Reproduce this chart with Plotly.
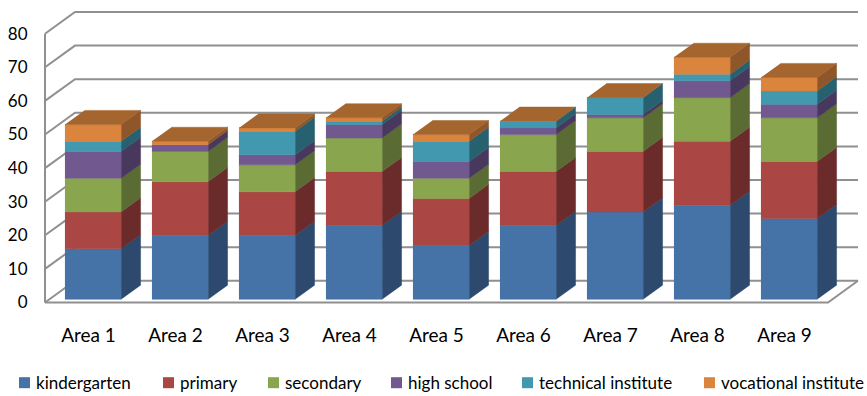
import plotly.graph_objects as go

# ---- data -------------------------------------------------------------
areas = ["Area 1", "Area 2", "Area 3", "Area 4", "Area 5",
         "Area 6", "Area 7", "Area 8", "Area 9"]

kindergarten = [15, 19, 19, 22, 16, 22, 26, 28, 24]
primary = [11, 16, 13, 16, 14, 16, 18, 19, 17]
secondary = [10, 9, 8, 10, 6, 11, 10, 13, 13]
high_school = [8, 2, 3, 4, 5, 2, 1, 5, 4]
technical_institute = [3, 0, 7, 1, 6, 2, 5, 2, 4]
vocational_institute = [5, 1, 1, 1, 2, 0, 0, 5, 4]

series_names = ["kindergarten", "primary", "secondary", "high school",
                "technical institute", "vocational institute"]
series_values = [kindergarten, primary, secondary, high_school,
                 technical_institute, vocational_institute]

y_ticks = [0, 10, 20, 30, 40, 50, 60, 70, 80]

# ---- styling ----------------------------------------------------------
front_colors = ["#4572A7", "#AA4643", "#89A54E", "#71588F", "#4198AF", "#DB843D"]
side_colors = ["#2D4A6E", "#6B2B2A", "#5A6B33", "#48385D", "#27606F", "#8E5629"]
top_color = "#A5652F"
grid_color = "#909090"
FONT = "Lato"

W, H = 867, 396
M_L, M_R, M_T, M_B = 40, 0, 0, 90

# pixel scale of one category step and one value unit
PX_X = 87.0
PX_Y = 3.36
X0_PX = 88.5      # pixel x of first category at the front plane
V0_PX = 302.5     # pixel y of value 0 at the front plane

# oblique depth offset (full depth of the floor), in data units
DX = 30.0 / PX_X
DY = 21.7 / PX_Y

# bar geometry
HALF_W = 0.3225   # half of the bar front width (category units)
D_FRONT = 0.15    # depth of the bar front face
D_BACK = 0.80     # depth of the bar back face

x_range = [(M_L - X0_PX) / PX_X, (W - M_R - X0_PX) / PX_X]
plot_h = H - M_T - M_B
y_range = [(V0_PX - (M_T + plot_h)) / PX_Y, (V0_PX - M_T) / PX_Y]

x_lo, x_hi = -0.5, len(areas) - 0.5
v_top = y_ticks[-1]

fig = go.Figure()

# ---- walls, floor and gridlines ---------------------------------------
gx, gy = [], []
for v in y_ticks:
    gx += [x_lo, x_lo + DX, x_hi + DX, None]
    gy += [v, v + DY, v + DY, None]
# left wall front edge
gx += [x_lo, x_lo, None]
gy += [0, v_top, None]
# floor outline
gx += [x_lo, x_hi, x_hi + DX, None]
gy += [0, 0, DY, None]
fig.add_trace(go.Scatter(x=gx, y=gy, mode="lines",
                         line=dict(color=grid_color, width=2),
                         hoverinfo="skip", showlegend=False))


def proj(x, v, d):
    """Oblique projection of (category x, value v, depth d)."""
    return x + d * DX, v + d * DY


# ---- stacked bars -----------------------------------------------------
n = len(areas)
bottoms = [0.0] * n
faces_front, faces_side = [], []
for s, vals in enumerate(series_values):
    fx, fy, sx, sy = [], [], [], []
    for i in range(n):
        b = bottoms[i]
        t = b + vals[i]
        if vals[i] > 0:
            pts = [proj(i - HALF_W, b, D_FRONT), proj(i + HALF_W, b, D_FRONT),
                   proj(i + HALF_W, t, D_FRONT), proj(i - HALF_W, t, D_FRONT)]
            fx += [p[0] for p in pts] + [None]
            fy += [p[1] for p in pts] + [None]
            pts = [proj(i + HALF_W, b, D_FRONT), proj(i + HALF_W, b, D_BACK),
                   proj(i + HALF_W, t, D_BACK), proj(i + HALF_W, t, D_FRONT)]
            sx += [p[0] for p in pts] + [None]
            sy += [p[1] for p in pts] + [None]
        bottoms[i] = t
    faces_side.append((sx, sy))
    faces_front.append((fx, fy))

for s in range(len(series_values)):
    sx, sy = faces_side[s]
    fig.add_trace(go.Scatter(x=sx, y=sy, mode="lines", fill="toself",
                             fillcolor=side_colors[s],
                             line=dict(color=side_colors[s], width=0.5),
                             hoverinfo="skip", showlegend=False))
for s in range(len(series_values)):
    fx, fy = faces_front[s]
    fig.add_trace(go.Scatter(x=fx, y=fy, mode="lines", fill="toself",
                             fillcolor=front_colors[s],
                             line=dict(color=front_colors[s], width=0.5),
                             name=series_names[s],
                             hoverinfo="skip", showlegend=False))

# top caps of each stack
tx, ty = [], []
for i in range(n):
    t = bottoms[i]
    pts = [proj(i - HALF_W, t, D_FRONT), proj(i + HALF_W, t, D_FRONT),
           proj(i + HALF_W, t, D_BACK), proj(i - HALF_W, t, D_BACK)]
    tx += [p[0] for p in pts] + [None]
    ty += [p[1] for p in pts] + [None]
fig.add_trace(go.Scatter(x=tx, y=ty, mode="lines", fill="toself",
                         fillcolor=top_color,
                         line=dict(color=top_color, width=0.5),
                         hoverinfo="skip", showlegend=False))

# ---- legend (drawn as shapes + labels along the bottom) ---------------
plot_w = W - M_L - M_R
legend_left_px = [19, 163, 268, 391, 522, 704]
legend_cy_px = 382.7
SQ = 11


def px_to_paper(px, py):
    return (px - M_L) / plot_w, (M_T + plot_h - py) / plot_h


for s, name in enumerate(series_names):
    x0, y0 = px_to_paper(legend_left_px[s], legend_cy_px + SQ / 2)
    x1, y1 = px_to_paper(legend_left_px[s] + SQ, legend_cy_px - SQ / 2)
    fig.add_shape(type="rect", xref="paper", yref="paper",
                  x0=x0, y0=y0, x1=x1, y1=y1,
                  fillcolor=front_colors[s], line=dict(width=0))
    ax, ay = px_to_paper(legend_left_px[s] + SQ + 3.5, legend_cy_px)
    fig.add_annotation(xref="paper", yref="paper", x=ax, y=ay,
                       text=name, showarrow=False,
                       xanchor="left", yanchor="middle",
                       font=dict(family=FONT, size=17, color="#000000"))

fig.update_layout(
    width=W, height=H,
    margin=dict(l=M_L, r=M_R, t=M_T, b=M_B),
    paper_bgcolor="white", plot_bgcolor="white",
    showlegend=False,
    font=dict(family=FONT, size=17, color="#000000"),
    xaxis=dict(range=x_range, tickmode="array",
               tickvals=list(range(n)), ticktext=areas,
               tickfont=dict(family=FONT, size=19, color="#000000"),
               ticks="outside", ticklen=12, tickcolor="rgba(0,0,0,0)",
               showgrid=False, zeroline=False, showline=False, fixedrange=True),
    yaxis=dict(range=y_range, tickmode="array",
               tickvals=y_ticks, ticktext=[str(v) for v in y_ticks],
               tickfont=dict(family=FONT, size=17, color="#000000"),
               ticks="outside", ticklen=8, tickcolor="rgba(0,0,0,0)",
               showgrid=False, zeroline=False, showline=False, fixedrange=True),
)

fig.write_html("out.html")
